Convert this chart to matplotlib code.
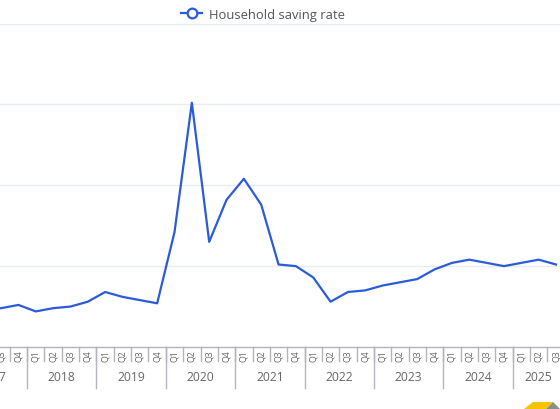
import numpy as np
import matplotlib
matplotlib.use("Agg")
import matplotlib.pyplot as plt
from matplotlib.patches import Polygon
from matplotlib.lines import Line2D

# quarterly household saving rate, Q3 2017 .. Q3 2025
quarters = ["Q3", "Q4"] + ["Q1", "Q2", "Q3", "Q4"] * 7 + ["Q1", "Q2", "Q3"]
years = ["2017", "2018", "2019", "2020", "2021", "2022", "2023", "2024", "2025"]
year_quarters = [4, 4, 4, 4, 4, 4, 4, 4, 3]   # quarters per year shown in the label grouping
saving_rate = [12.4, 12.6, 12.2, 12.4, 12.5, 12.8, 13.4, 13.1, 12.9, 12.7,
               17.1, 25.1, 16.5, 19.1, 20.4, 18.8, 15.1, 15.0, 14.3, 12.8,
               13.4, 13.5, 13.8, 14.0, 14.2, 14.8, 15.2, 15.4, 15.2, 15.0,
               15.2, 15.4, 15.1]
y_grid = [15, 20, 25, 30]

W, H = 560, 410
fig = plt.figure(figsize=(W / 100, H / 100), dpi=100)
plt.rcParams["font.family"] = ["Open Sans", "DejaVu Sans"]

ax_bottom, ax_top = 348, 24.5
ax = fig.add_axes([0, (H - ax_bottom) / H, 1, (ax_bottom - ax_top) / H])

x = np.arange(len(saving_rate))
ax.plot(x, saving_rate, color="#2b5bd9", linewidth=1.6, zorder=3)

ax.set_xlim(-0.063, 32.23)
ax.set_ylim(10, 30)
for v in y_grid:
    ax.axhline(v, color="#e8ecf3", linewidth=1.0, zorder=1)
for s in ["top", "right", "left"]:
    ax.spines[s].set_visible(False)
ax.spines["bottom"].set_color("#b4b4bc")
ax.spines["bottom"].set_linewidth(1.0)
ax.set_xticks([])
ax.set_yticks([])


def frac(ypx):
    return (ax_bottom - ypx) / (ax_bottom - ax_top)


tr = ax.get_xaxis_transform()
tick_col = "#b4b4bc"
text_col = "#666666"

# quarter labels and separators
for i, q in enumerate(quarters):
    ax.text(i, frac(350), q, rotation=90, ha="center", va="top", fontsize=6.3,
            color=text_col, transform=tr, clip_on=False)
for i in range(-2, len(quarters)):
    xs = i + 0.5
    ax.plot([xs, xs], [frac(348), frac(362)], color=tick_col, linewidth=1.0,
            transform=tr, clip_on=False)

# year labels and separators
start = -2
for yr, n in zip(years, year_quarters):
    end = start + n
    center = (start + end - 1) / 2
    ax.text(center, frac(378), yr, ha="center", va="center", fontsize=8.7,
            color=text_col, transform=tr, clip_on=False)
    if yr != years[-1]:
        ax.plot([end - 0.5, end - 0.5], [frac(348), frac(389)], color=tick_col,
                linewidth=1.0, transform=tr, clip_on=False)
    start = end

# legend
handle = Line2D([], [], color="#2b5bd9", linewidth=1.6, marker="o", markersize=7,
                markerfacecolor="white", markeredgecolor="#2b5bd9", markeredgewidth=1.6)
fig.legend([handle], ["Household saving rate"], loc="center", bbox_to_anchor=(263 / W, 1 - 15 / H),
           frameon=False, fontsize=9.4, labelcolor="#555555", handlelength=1.6,
           handletextpad=0.5, borderpad=0)

# corner logo
yellow = [(524, 410), (533, 403), (553, 403), (546, 410)]
grey = [(546, 410), (553, 403), (560, 410)]
for pts, col in [(yellow, "#f5c400"), (grey, "#8c8c8c")]:
    fig.patches.append(Polygon([(px / W, 1 - py / H) for px, py in pts], closed=True,
                               transform=fig.transFigure, facecolor=col, edgecolor="none"))

fig.savefig("out.png", dpi=100)
